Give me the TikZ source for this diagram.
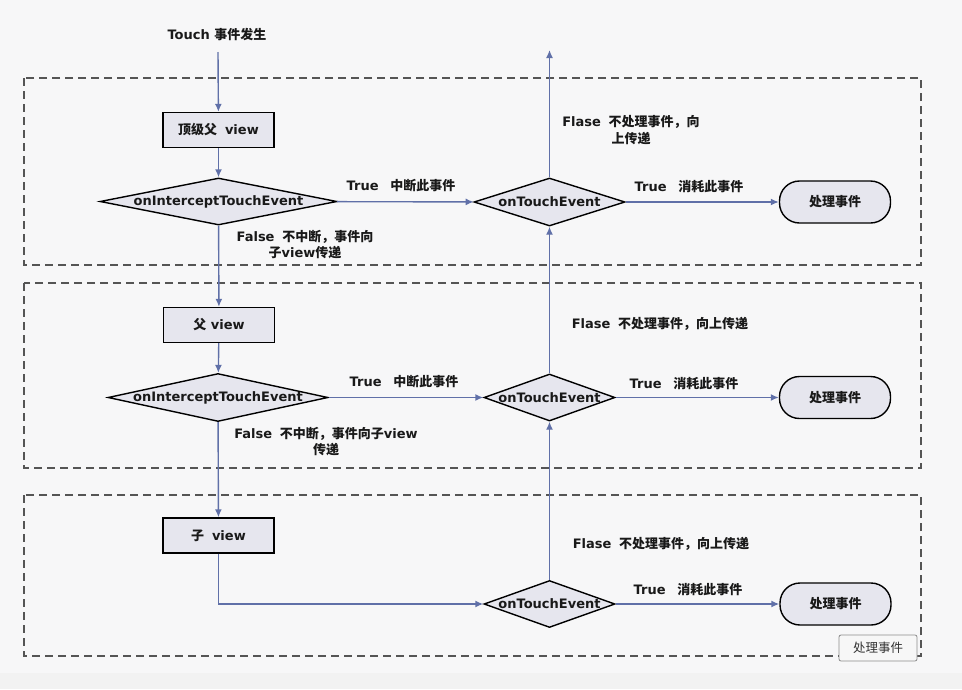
\documentclass[tikz,border=0pt]{standalone}
\usepackage{fontspec}
\setmainfont{DejaVu Sans}
\newfontfamily\cjk{Noto Sans CJK SC}
\newcommand\zh[1]{{\cjk #1}}
\usetikzlibrary{shapes.geometric,arrows.meta}
\definecolor{flow}{HTML}{6070A8}
\definecolor{shapefill}{HTML}{E6E6EE}
\definecolor{bg}{HTML}{F7F7F8}
\definecolor{frame}{HTML}{555555}
\tikzset{
  txt/.style={font=\fontsize{13}{16}\selectfont\bfseries, text=black!90, inner sep=0pt, align=center},
  viewbox/.style={txt, draw=black, line width=1.4pt, fill=shapefill, minimum width=111pt, minimum height=35pt},
  decision/.style={txt, diamond, draw=black, line width=1.4pt, fill=shapefill},
  terminal/.style={txt, draw=black, line width=1.4pt, fill=shapefill, rounded corners=20pt, minimum width=111pt, minimum height=42pt},
  lbl/.style={txt},
  arr/.style={draw=flow, line width=1.4pt, -{Latex[length=8pt,width=7pt]}},
  layer/.style={draw=frame, line width=1.3pt, dash pattern=on 8pt off 5pt},
  tip/.style={font=\fontsize{12.5}{14}\selectfont, text=black!80, draw=black!45, line width=0.8pt, fill=white!97!black, rounded corners=2pt, minimum width=78pt, minimum height=26pt, inner sep=0pt}
}
\begin{document}
\begin{tikzpicture}[x=1pt,y=-1pt]
  % canvas
  \fill[bg] (0,0) rectangle (962,689);
  \fill[black!5] (0,673) rectangle (962,689);
  \useasboundingbox (0,0) rectangle (962,689);

  % three layers of the view hierarchy
  \draw[layer] (24,78) rectangle (921,265);
  \draw[layer] (24,283) rectangle (921,468);
  \draw[layer] (24,495) rectangle (921,656);

  % top-level parent view
  \node[lbl] (touch) at (217,35) {Touch \zh{事件发生}};
  \coordinate (start) at (218,52);
  \node[viewbox] (b1) at (218.5,130) {\zh{顶级父}\hspace{0.6em}view};
  \node[decision, minimum width=237pt, minimum height=47pt] (d1) at (218.5,201.5) {\makebox[0pt]{onInterceptTouchEvent}};
  \node[decision, minimum width=151pt, minimum height=48pt] (d2) at (549.5,202) {\makebox[0pt]{onTouchEvent}};
  \node[terminal] (p1) at (835,202) {\zh{处理事件}};
  \coordinate (up) at (549.5,50);

  % parent view
  \node[viewbox] (b2) at (219,325) {\zh{父} view};
  \node[decision, minimum width=220pt, minimum height=48pt] (d3) at (218,397.5) {\makebox[0pt]{onInterceptTouchEvent}};
  \node[decision, minimum width=131pt, minimum height=47pt] (d4) at (549.5,397.5) {\makebox[0pt]{onTouchEvent}};
  \node[terminal] (p2) at (835,397.5) {\zh{处理事件}};

  % child view
  \node[viewbox] (b3) at (218.5,535.5) {\zh{子}\hspace{0.6em}view};
  \node[decision, minimum width=131pt, minimum height=47pt] (d5) at (549.5,604) {\makebox[0pt]{onTouchEvent}};
  \node[terminal] (p3) at (835.5,604) {\zh{处理事件}};

  % connectors
  \draw[arr] (start) -- (b1);
  \draw[arr] (b1) -- (d1);
  \draw[arr] (d1) -- (d2);
  \draw[arr] (d2) -- (up);
  \draw[arr] (d2) -- (p1);
  \draw[arr] (d1) -- (b2);
  \draw[arr] (b2) -- (d3);
  \draw[arr] (d3.east) -- (d4.west);
  \draw[arr] (d4) -- (d2);
  \draw[arr] (d4) -- (p2);
  \draw[arr] (d3) -- (b3);
  \draw[arr] (b3.south) |- (d5.west);
  \draw[arr] (d5) -- (d4);
  \draw[arr] (d5) -- (p3);

  % edge labels
  \node[lbl] (l1) at (401,186) {True\hspace{0.9em}\zh{中断此事件}};
  \node[lbl] (l2) at (305,245) {False\hspace{0.6em}\zh{不中断，事件向}\\\zh{子}view\zh{传递}};
  \node[lbl] (l3) at (631,130) {Flase\hspace{0.6em}\zh{不处理事件，向}\\[1pt]\zh{上传递}};
  \node[lbl] (l4) at (689,187) {True\hspace{0.9em}\zh{消耗此事件}};

  \node[lbl] (l5) at (404,382) {True\hspace{0.9em}\zh{中断此事件}};
  \node[lbl] (l6) at (326,442) {False\hspace{0.6em}\zh{不中断，事件向子}view\\\zh{传递}};
  \node[lbl] (l7) at (660,324) {Flase\hspace{0.6em}\zh{不处理事件，向上传递}};
  \node[lbl] (l8) at (684,384) {True\hspace{0.9em}\zh{消耗此事件}};

  \node[lbl] (l9) at (661,544) {Flase\hspace{0.6em}\zh{不处理事件，向上传递}};
  \node[lbl] (l10) at (688,590) {True\hspace{0.9em}\zh{消耗此事件}};

  % hover hint
  \node[tip] (hint) at (878,648) {\zh{处理事件}};
\end{tikzpicture}
\end{document}
